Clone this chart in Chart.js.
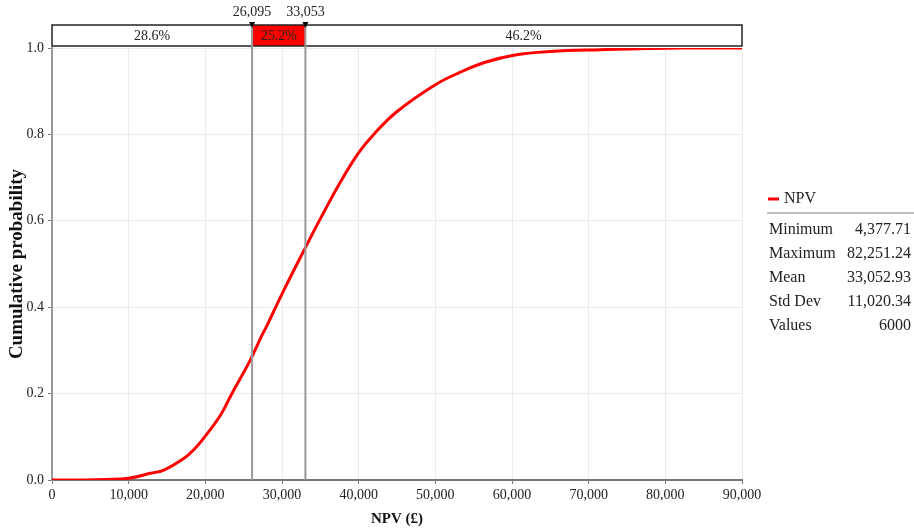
<!DOCTYPE html>
<html>
<head>
<meta charset="utf-8">
<script src="https://cdn.jsdelivr.net/npm/chart.js@4/dist/chart.umd.min.js"></script>
<style>
  body { margin: 0; background: #fff; }
  #wrap { width: 914px; height: 530px; }
</style>
</head>
<body>
<div id="wrap"><canvas id="myChart" width="914" height="530"></canvas></div>
<script>
// data
const npvValues = [0, 4378, 7000, 10000, 12840, 14580, 17190, 18490, 20010, 21970, 23490, 25880, 27190, 28050, 30010, 33053, 35010, 37620, 40010, 41960, 45010, 50000, 53260, 56500, 60400, 65000, 71500, 82251, 90000];
const cumProb = [0, 0, 0.001, 0.004, 0.0155, 0.023, 0.05, 0.07, 0.102, 0.15, 0.201, 0.278, 0.328, 0.358, 0.431, 0.538, 0.605, 0.69, 0.758, 0.8, 0.853, 0.915, 0.944, 0.967, 0.984, 0.992, 0.996, 1.0, 1.0];
const delimiters = [26095, 33053];
const bandLabels = ["28.6%", "25.2%", "46.2%"];
const statNames = ["Minimum", "Maximum", "Mean", "Std Dev", "Values"];
const statValues = ["4,377.71", "82,251.24", "33,052.93", "11,020.34", "6000"];
const seriesName = "NPV";

const FONT = "'Liberation Serif', 'Times New Roman', serif";

// band on top, delimiter lines, stats legend
const extras = {
  id: "extras",
  afterDraw(chart) {
    const ctx = chart.ctx;
    const x = chart.scales.x;
    const area = chart.chartArea;
    const d1 = x.getPixelForValue(delimiters[0]);
    const d2 = x.getPixelForValue(delimiters[1]);
    const top = 25, bot = area.top - 2;
    ctx.save();
    // red middle
    ctx.fillStyle = "#ff0000";
    ctx.fillRect(d1, top, d2 - d1, bot - top);
    ctx.strokeStyle = "#222";
    ctx.lineWidth = 1.5;
    ctx.strokeRect(area.left, top, area.right - area.left, bot - top);
    // delimiter lines
    ctx.strokeStyle = "#999";
    ctx.lineWidth = 2;
    [d1, d2].forEach(p => {
      ctx.beginPath();
      ctx.moveTo(p, top);
      ctx.lineTo(p, area.bottom);
      ctx.stroke();
    });
    // markers
    ctx.fillStyle = "#000";
    [d1, d2].forEach(p => {
      ctx.beginPath();
      ctx.moveTo(p - 3, 22);
      ctx.lineTo(p + 3, 22);
      ctx.lineTo(p, 28);
      ctx.closePath();
      ctx.fill();
    });
    ctx.font = "14px " + FONT;
    ctx.fillStyle = "#222";
    ctx.textAlign = "center";
    ctx.textBaseline = "middle";
    ctx.fillText(delimiters[0].toLocaleString("en-US"), d1, 12);
    ctx.fillText(delimiters[1].toLocaleString("en-US"), d2, 12);
    const mid = (top + bot) / 2 + 1;
    ctx.fillText(bandLabels[0], (area.left + d1) / 2, mid);
    ctx.fillText(bandLabels[1], (d1 + d2) / 2, mid);
    ctx.fillText(bandLabels[2], (d2 + area.right) / 2, mid);

    // legend
    ctx.strokeStyle = "#ff0000";
    ctx.lineWidth = 3;
    ctx.beginPath();
    ctx.moveTo(768, 199);
    ctx.lineTo(779, 199);
    ctx.stroke();
    ctx.font = "16px " + FONT;
    ctx.textAlign = "left";
    ctx.fillText(seriesName, 784, 199);
    ctx.strokeStyle = "#aaa";
    ctx.lineWidth = 1.5;
    ctx.beginPath();
    ctx.moveTo(767, 213);
    ctx.lineTo(914, 213);
    ctx.stroke();
    statNames.forEach((n, i) => {
      const y = 230 + i * 24;
      ctx.textAlign = "left";
      ctx.fillText(n, 769, y);
      ctx.textAlign = "right";
      ctx.fillText(statValues[i], 911, y);
    });
    ctx.restore();
  }
};

const config = {
  type: "line",
  data: {
    datasets: [{
      label: seriesName,
      data: npvValues.map((v, i) => ({ x: v, y: cumProb[i] })),
      borderColor: "#ff0000",
      borderWidth: 3,
      pointRadius: 0,
      tension: 0.4,
      fill: false
    }]
  },
  options: {
    responsive: false,
    animation: false,
    layout: { padding: { top: 48, right: 172, bottom: 0, left: 0 } },
    plugins: { legend: { display: false }, tooltip: { enabled: false } },
    scales: {
      x: {
        type: "linear",
        min: 0,
        max: 90000,
        ticks: {
          stepSize: 10000,
          padding: 3,
          color: "#222",
          font: { family: FONT, size: 14 },
          callback: v => v.toLocaleString("en-US")
        },
        grid: { color: "#ebebeb", tickColor: "#777", tickLength: 4 },
        border: { color: "#777", width: 2 },
        title: {
          display: true,
          text: "NPV (£)",
          color: "#111",
          padding: 2,
          font: { family: FONT, size: 15, weight: "bold" }
        },
        afterFit(s) { s.height = 50; }
      },
      y: {
        min: 0,
        max: 1,
        ticks: {
          stepSize: 0.2,
          padding: 4,
          color: "#222",
          font: { family: FONT, size: 14 },
          callback: v => v.toFixed(1)
        },
        grid: { color: "#ebebeb", tickColor: "#777", tickLength: 4 },
        border: { color: "#999", width: 2 },
        title: {
          display: true,
          text: "Cumulative probability",
          color: "#111",
          padding: { top: 6, bottom: 0 },
          font: { family: FONT, size: 19, weight: "bold" }
        },
        afterFit(s) { s.width = 52; }
      }
    }
  },
  plugins: [extras]
};

var myChart = new Chart(document.getElementById("myChart"), config);
</script>
</body>
</html>
